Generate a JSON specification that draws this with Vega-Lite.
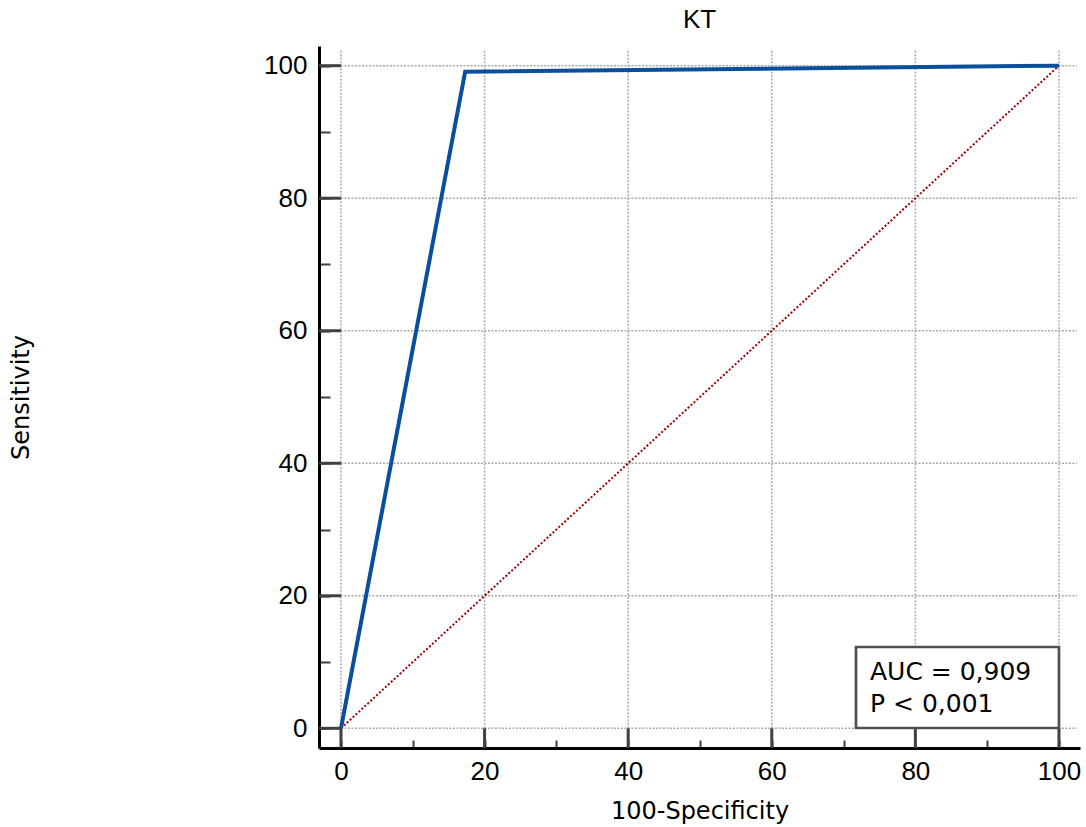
{
  "$schema": "https://vega.github.io/schema/vega-lite/v6.json",
  "width": 761,
  "height": 702,
  "autosize": {"type": "none"},
  "padding": {"left": 319, "top": 46, "right": 6, "bottom": 79},
  "background": "white",
  "title": {
    "text": "KT",
    "font": "Arial, Liberation Sans, sans-serif",
    "fontSize": 26,
    "fontWeight": "normal",
    "color": "black",
    "baseline": "alphabetic",
    "anchor": "middle",
    "frame": "group",
    "offset": -8
  },
  "config": {
    "view": {"stroke": null},
    "axis": {
      "zindex": 1,
      "domainColor": "black",
      "domainWidth": 3,
      "tickColor": "#404040",
      "tickWidth": 2,
      "labelFont": "Arial, Liberation Sans, sans-serif",
      "labelFontSize": 26,
      "labelColor": "black",
      "labelFlush": false,
      "labelOverlap": false,
      "grid": false,
      "titleFont": "DejaVu Sans",
      "titleFontSize": 24,
      "titleFontWeight": "normal",
      "titleColor": "black"
    }
  },
  "datasets": {
    "roc": [
      {"fpr": 0, "sens": 0},
      {"fpr": 17.3, "sens": 99.1},
      {"fpr": 100, "sens": 100}
    ],
    "chance": [
      {"fpr": 0, "sens": 0},
      {"fpr": 100, "sens": 100}
    ],
    "grid": [
      {"g": 0}, {"g": 20}, {"g": 40}, {"g": 60}, {"g": 80}, {"g": 100}
    ],
    "stats": [
      {"auc": "AUC = 0,909", "p": "P < 0,001"}
    ]
  },
  "layer": [
    {
      "data": {"name": "grid"},
      "mark": {"type": "rule", "color": "#a8a8a8", "strokeWidth": 1.5, "strokeDash": [2, 1.5]},
      "encoding": {
        "x": {"field": "g", "type": "quantitative"},
        "y": {"datum": 0, "type": "quantitative"},
        "y2": {"datum": 102.5}
      }
    },
    {
      "data": {"name": "grid"},
      "mark": {"type": "rule", "color": "#a8a8a8", "strokeWidth": 1.5, "strokeDash": [2, 1.5]},
      "encoding": {
        "y": {"field": "g", "type": "quantitative"},
        "x": {"datum": 0, "type": "quantitative"},
        "x2": {"datum": 102.5}
      }
    },
    {
      "data": {"name": "grid"},
      "mark": {"type": "rule", "color": "#404040", "strokeWidth": 3},
      "encoding": {
        "x": {"field": "g", "type": "quantitative"},
        "y": {"datum": -2.97, "type": "quantitative"},
        "y2": {"datum": 0}
      }
    },
    {
      "data": {"name": "grid"},
      "mark": {"type": "rule", "color": "#404040", "strokeWidth": 3},
      "encoding": {
        "y": {"field": "g", "type": "quantitative"},
        "x": {"datum": -3.06, "type": "quantitative"},
        "x2": {"datum": 0}
      }
    },
    {
      "data": {"name": "chance"},
      "mark": {"type": "line", "color": "#a00000", "strokeWidth": 2, "strokeDash": [2, 2]},
      "encoding": {
        "x": {"field": "fpr", "type": "quantitative"},
        "y": {"field": "sens", "type": "quantitative"}
      }
    },
    {
      "data": {"name": "roc"},
      "mark": {"type": "line", "color": "#0a4f9c", "strokeWidth": 4},
      "encoding": {
        "x": {
          "field": "fpr",
          "type": "quantitative",
          "scale": {"domain": [-3.06, 102.93], "nice": false, "zero": false},
          "axis": {
            "title": "100-Specificity",
            "values": [0, 5, 10, 15, 20, 25, 30, 35, 40, 45, 50, 55, 60, 65, 70, 75, 80, 85, 90, 95, 100],
            "labelExpr": "datum.value % 20 === 0 ? datum.label : ''",
            "tickSize": -8,
            "labelPadding": 18,
            "titleBaseline": "alphabetic",
            "titleY": 70
          }
        },
        "y": {
          "field": "sens",
          "type": "quantitative",
          "scale": {"domain": [-2.97, 102.97], "nice": false, "zero": false},
          "axis": {
            "title": "Sensitivity",
            "values": [0, 5, 10, 15, 20, 25, 30, 35, 40, 45, 50, 55, 60, 65, 70, 75, 80, 85, 90, 95, 100],
            "labelExpr": "datum.value % 20 === 0 ? datum.label : ''",
            "tickSize": -11,
            "labelPadding": 23,
            "titleAngle": -90,
            "titleBaseline": "alphabetic",
            "titleX": -291,
            "titleY": 351
          }
        }
      }
    },
    {
      "data": {"name": "stats"},
      "mark": {"type": "rect", "fill": "white", "stroke": "#505050", "strokeWidth": 2.7},
      "encoding": {
        "x": {"datum": 71.73, "type": "quantitative"},
        "x2": {"datum": 100},
        "y": {"datum": 0.05, "type": "quantitative"},
        "y2": {"datum": 12.27}
      }
    },
    {
      "data": {"name": "stats"},
      "mark": {"type": "text", "font": "DejaVu Sans", "fontSize": 25, "align": "left", "baseline": "alphabetic", "color": "black"},
      "encoding": {
        "text": {"field": "auc"},
        "x": {"datum": 73.68, "type": "quantitative"},
        "y": {"datum": 7.29, "type": "quantitative"}
      }
    },
    {
      "data": {"name": "stats"},
      "mark": {"type": "text", "font": "DejaVu Sans", "fontSize": 25, "align": "left", "baseline": "alphabetic", "color": "black"},
      "encoding": {
        "text": {"field": "p"},
        "x": {"datum": 73.68, "type": "quantitative"},
        "y": {"datum": 2.46, "type": "quantitative"}
      }
    }
  ]
}
